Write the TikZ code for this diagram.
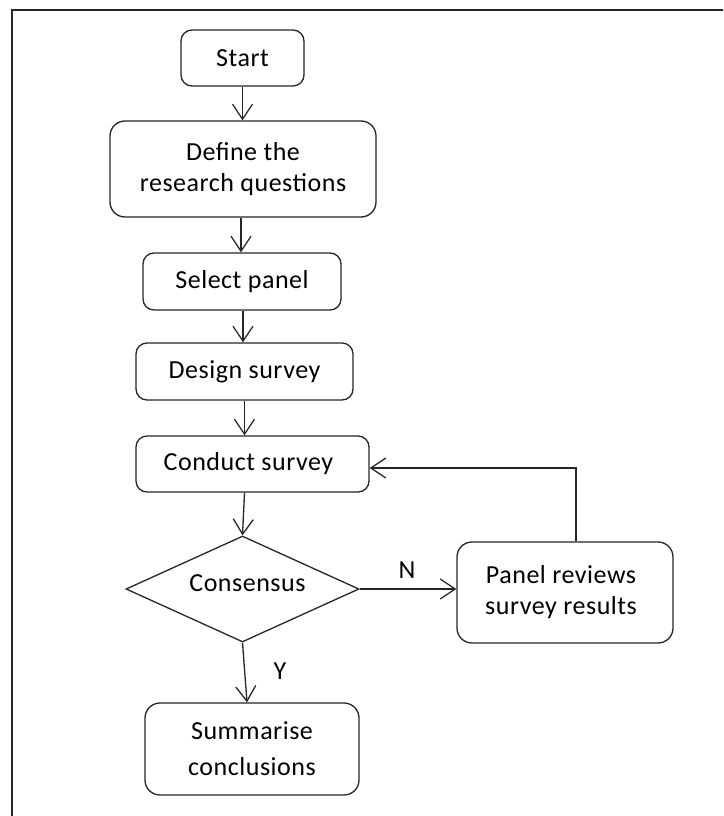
\documentclass[tikz,border=0pt]{standalone}
\usepackage{fontspec}
\setmainfont{Carlito}[LetterSpace=2]
\usetikzlibrary{arrows.meta,shapes.geometric}

\tikzset{
  flowbox/.style={draw=black!85, line width=1.3pt, rounded corners=11pt,
    align=center, inner sep=0pt, font=\fontsize{26}{31}\selectfont},
  decision/.style={draw=black!85, line width=1.3pt, diamond, aspect=2.2,
    inner sep=0pt, font=\fontsize{26}{31}\selectfont},
  flow/.style={draw=black!85, line width=1.3pt,
    -{Straight Barb[length=15pt,width=20pt,line width=1.3pt]}},
  tag/.style={font=\fontsize{26}{31}\selectfont},
}

\begin{document}
\begin{tikzpicture}[x=1pt,y=-1pt]
  \clip (0,0) rectangle (723,816);
  \fill[white] (0,0) rectangle (723,816);
  % outer frame
  \draw[line width=2pt, black!85] (12,840) -- (12,10) -- (740,10);

  % process steps
  \node[flowbox, minimum width=123pt, minimum height=56pt] (start) at (242.5,58) {\raisebox{-2pt}{Start}};
  \node[flowbox, minimum width=266pt, minimum height=96pt, rounded corners=15pt] (define) at (243,169) {Define the\\research questions};
  \node[flowbox, minimum width=198pt, minimum height=57pt] (select) at (242,281.5) {Select panel};
  \node[flowbox, minimum width=217pt, minimum height=57pt] (design) at (244.5,371.5) {Design survey};
  \node[flowbox, minimum width=233pt, minimum height=56pt] (conduct) at (252.5,464) {\hspace*{-8pt}Conduct survey};
  \node[decision, minimum width=233pt, minimum height=106pt] (consensus) at (242.5,589) {\hspace*{10pt}\raisebox{11pt}{Consensus}};
  \node[flowbox, minimum width=216pt, minimum height=101pt, rounded corners=15pt] (review) at (565,592.5) {\hspace*{-8pt}Panel reviews\\\hspace*{-8pt}survey results};
  \node[flowbox, minimum width=214pt, minimum height=92pt, rounded corners=15pt,
        font=\fontsize{26}{36}\selectfont] (summ) at (252,749) {Summarise\\conclusions};

  % connectors
  \draw[flow] (start.south) -- (start.south |- define.north);
  \draw[flow] ([xshift=-2pt]define.south) -- ([xshift=-2pt]define.south |- select.north);
  \draw[flow] ([xshift=1pt]select.south) -- ([xshift=1pt]select.south |- design.north);
  \draw[flow] (design.south) -- (design.south |- conduct.north);
  \draw[flow] ([xshift=-8pt]conduct.south) -- (consensus.north);
  \draw[flow] (consensus.east) -- (consensus.east -| review.west);
  \draw[flow] ([xshift=11pt]review.north) |- ([yshift=-4pt]conduct.east);
  \draw[flow] (consensus.south) -- ([xshift=-5pt]summ.north);

  % branch labels
  \node[tag] (no) at (407,570) {N};
  \node[tag] (yes) at (280,671) {Y};
\end{tikzpicture}
\end{document}
